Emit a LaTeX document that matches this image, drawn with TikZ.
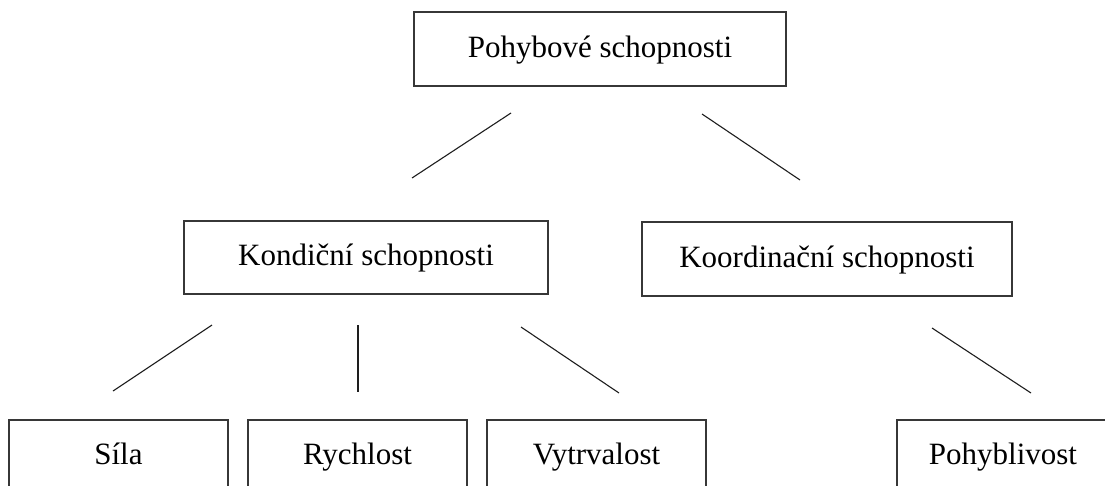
\documentclass[tikz,border=0pt]{standalone}
\usepackage{fontspec}
\setmainfont{Liberation Serif}
\usetikzlibrary{positioning}
\definecolor{boxline}{RGB}{55,55,55}
\definecolor{linkline}{RGB}{30,30,30}

\begin{document}
\begin{tikzpicture}[
    x=1pt, y=-1pt,
    box/.style={draw=boxline, line width=1.6pt, minimum height=73pt, inner sep=0pt,
        text height=23pt, text depth=7pt, font=\fontsize{31}{36}\selectfont},
    link/.style={draw=linkline, line width=1.1pt},
]
    \clip (0,0) rectangle (1105,485);
    \fill[white] (0,0) rectangle (1105,485);

    % levels of the tree
    \node[box, minimum width=372pt, minimum height=74pt] (pohyb) at (600,49) {Pohybové schopnosti};
    \node[box, minimum width=364pt] (kond) at (366,257.5) {Kondiční schopnosti};
    \node[box, minimum width=370pt, minimum height=74pt] (koord) at (827,259) {Koordinační schopnosti};

    \node[box, minimum width=219pt] (sila) at (118.5,456.5) {Síla};
    \node[box, minimum width=219pt] (rychl) at (357.5,456.5) {Rychlost};
    \node[box, minimum width=219pt] (vytrv) at (596.5,456.5) {Vytrvalost};
    \node[box, minimum width=212pt] (pohybl) at (1003,456.5) {Pohyblivost};

    % loose connectors
    \coordinate (pl1) at (511,113); \coordinate (pl2) at (412,178);
    \coordinate (pr1) at (702,114); \coordinate (pr2) at (800,180);
    \coordinate (k1a) at (212,325); \coordinate (k1b) at (113,391);
    \coordinate (k2a) at (358,325); \coordinate (k2b) at (358,392);
    \coordinate (k3a) at (521,327); \coordinate (k3b) at (619,393);
    \coordinate (c1a) at (932,328); \coordinate (c1b) at (1031,393);

    \draw[link] (pl1) -- (pl2);
    \draw[link] (pr1) -- (pr2);
    \draw[link] (k1a) -- (k1b);
    \draw[link] (k2a) -- (k2b);
    \draw[link] (k3a) -- (k3b);
    \draw[link] (c1a) -- (c1b);
\end{tikzpicture}
\end{document}
